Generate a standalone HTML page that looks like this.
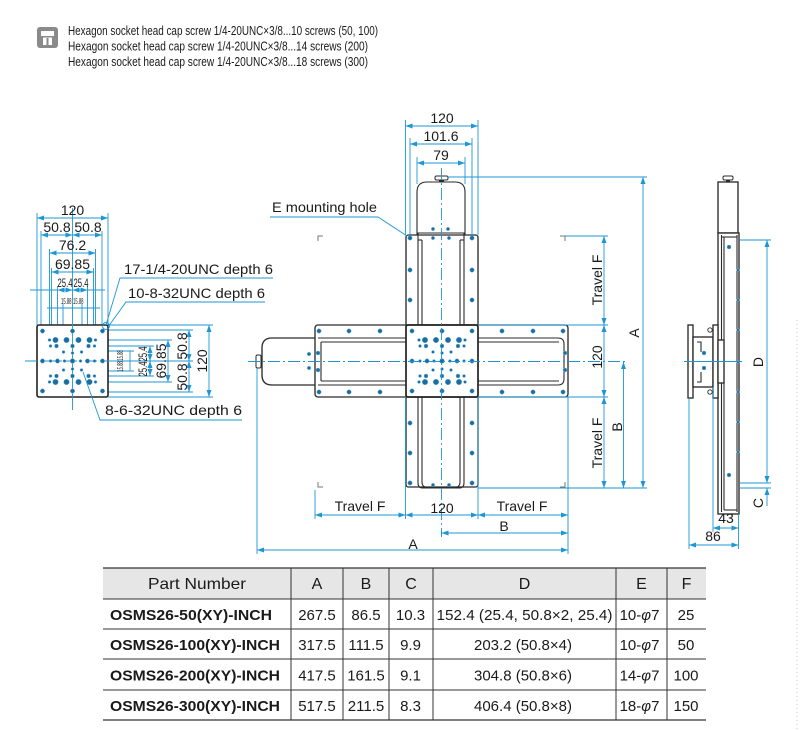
<!DOCTYPE html>
<html><head><meta charset="utf-8"><style>
html,body{margin:0;padding:0;background:#fff;}
svg{display:block}
.b{stroke:#1e96d6;stroke-width:0.9;fill:none}
.d{stroke:#1e96d6;stroke-width:0.9;fill:none;marker-start:url(#ar);marker-end:url(#ar)}
.k{stroke:#2b2b2b;stroke-width:1.35;fill:#fff}
.kl{stroke:#2b2b2b;stroke-width:1.1;fill:none}
.cl{stroke:#1e96d6;stroke-width:0.9;fill:none;stroke-dasharray:12 3 2 3}
.g{stroke:#777;stroke-width:1;fill:none}
.h{fill:#1d6c9c;stroke:#6bbbe8;stroke-width:0.5}
.t line{stroke:#333;stroke-width:1}
text{fill:#1a1a1a}
</style></head><body>
<svg width="800" height="730" viewBox="0 0 800 730" font-family="'Liberation Sans', sans-serif">
<defs>
<marker id="ar" viewBox="0 0 7 5" refX="7" refY="2.5" markerWidth="7" markerHeight="5" orient="auto-start-reverse" markerUnits="userSpaceOnUse"><path d="M0,0 L7,2.5 L0,5z" fill="#1e96d6"/></marker>
<g id="hp">
<circle class="h" cx="-30" cy="-30" r="2.2"/><circle class="h" cx="0" cy="-30" r="2.2"/><circle class="h" cx="30" cy="-30" r="2.2"/>
<circle class="h" cx="-30" cy="30" r="2.2"/><circle class="h" cx="0" cy="30" r="2.2"/><circle class="h" cx="30" cy="30" r="2.2"/>
<circle class="h" cx="-30" cy="0" r="2.2"/><circle class="h" cx="-22" cy="0" r="1.5"/><circle class="h" cx="-15" cy="0" r="2.2"/><circle class="h" cx="-8" cy="0" r="1.5"/><circle class="h" cx="0" cy="0" r="2.4"/><circle class="h" cx="8" cy="0" r="1.5"/><circle class="h" cx="15" cy="0" r="2.2"/><circle class="h" cx="22" cy="0" r="1.5"/><circle class="h" cx="30" cy="0" r="2.2"/>
<circle class="h" cx="-17" cy="-21" r="2.8"/><circle class="h" cx="-6" cy="-21" r="2.8"/><circle class="h" cx="6" cy="-21" r="2.8"/><circle class="h" cx="17" cy="-21" r="2.8"/>
<circle class="h" cx="-23" cy="-21" r="1.5"/><circle class="h" cx="23" cy="-21" r="1.5"/>
<circle class="h" cx="-16" cy="-15" r="2"/><circle class="h" cx="0" cy="-15" r="2"/><circle class="h" cx="16" cy="-15" r="2"/>
<circle class="h" cx="-22" cy="-15" r="1.5"/><circle class="h" cx="22" cy="-15" r="1.5"/>
<circle class="h" cx="-9" cy="-9" r="1.5"/><circle class="h" cx="9" cy="-9" r="1.5"/><circle class="h" cx="0" cy="-8" r="1.5"/>
<circle class="h" cx="-17" cy="21" r="2.8"/><circle class="h" cx="-6" cy="21" r="2.8"/><circle class="h" cx="6" cy="21" r="2.8"/><circle class="h" cx="17" cy="21" r="2.8"/>
<circle class="h" cx="-23" cy="21" r="1.5"/><circle class="h" cx="23" cy="21" r="1.5"/>
<circle class="h" cx="-16" cy="15" r="2"/><circle class="h" cx="0" cy="15" r="2"/><circle class="h" cx="16" cy="15" r="2"/>
<circle class="h" cx="-22" cy="15" r="1.5"/><circle class="h" cx="22" cy="15" r="1.5"/>
<circle class="h" cx="-9" cy="9" r="1.5"/><circle class="h" cx="9" cy="9" r="1.5"/><circle class="h" cx="0" cy="8" r="1.5"/>
</g>
</defs>

<!-- Header -->
<rect x="37" y="27" width="21" height="21" rx="3" fill="#8a8a8a"/>
<rect x="41" y="31" width="13" height="5" fill="#fff"/>
<rect x="43" y="37.5" width="9" height="7.5" fill="#fff"/>
<rect x="46.5" y="38" width="2" height="7" fill="#8a8a8a"/>
<text x="68" y="35" font-size="12.5" textLength="310" lengthAdjust="spacingAndGlyphs">Hexagon socket head cap screw 1/4-20UNC×3/8...10 screws (50, 100)</text>
<text x="68" y="50.5" font-size="12.5" textLength="300" lengthAdjust="spacingAndGlyphs">Hexagon socket head cap screw 1/4-20UNC×3/8...14 screws (200)</text>
<text x="68" y="66" font-size="12.5" textLength="300" lengthAdjust="spacingAndGlyphs">Hexagon socket head cap screw 1/4-20UNC×3/8...18 screws (300)</text>

<!-- ============ LEFT VIEW ============ -->
<g class="b">
<line x1="37" y1="213" x2="37" y2="325"/><line x1="108" y1="213" x2="108" y2="325"/>
<line x1="41" y1="231" x2="41" y2="330"/><line x1="102" y1="231" x2="102" y2="330"/>
<line x1="49.5" y1="249" x2="49.5" y2="339"/><line x1="95.5" y1="249" x2="95.5" y2="339"/>
<line x1="51.5" y1="268" x2="51.5" y2="340"/><line x1="93.5" y1="268" x2="93.5" y2="340"/>
<line x1="57.5" y1="286" x2="57.5" y2="346"/><line x1="87.5" y1="286" x2="87.5" y2="346"/>
<line x1="63" y1="304" x2="63" y2="350"/><line x1="82" y1="304" x2="82" y2="350"/>
<line x1="30" y1="290" x2="105" y2="290"/>
<line x1="47" y1="308" x2="100" y2="308"/>
<line x1="108" y1="325" x2="213" y2="325"/><line x1="108" y1="397" x2="213" y2="397"/>
<line x1="104" y1="330" x2="193" y2="330"/><line x1="104" y1="392" x2="193" y2="392"/>
<line x1="98" y1="340" x2="172" y2="340"/><line x1="98" y1="382" x2="172" y2="382"/>
<line x1="90" y1="346" x2="154" y2="346"/><line x1="90" y1="376" x2="154" y2="376"/>
<line x1="85" y1="351" x2="134" y2="351"/><line x1="85" y1="371" x2="134" y2="371"/>
<line x1="104" y1="361" x2="193" y2="361"/>
</g>
<rect x="37" y="325" width="71" height="72" rx="2" fill="#fff" stroke="#222" stroke-width="1.6"/>
<line class="b" x1="72.5" y1="208" x2="72.5" y2="410"/>
<line class="cl" x1="25" y1="361" x2="110" y2="361"/>
<use href="#hp" transform="translate(72.5 361)"/>
<circle cx="106" cy="326" r="3.5" fill="none" stroke="#1e96d6" stroke-width="0.9"/>
<line class="d" x1="37" y1="218" x2="108" y2="218"/>
<line class="d" x1="41" y1="235" x2="72.5" y2="235"/><line class="d" x1="72.5" y1="235" x2="102" y2="235"/>
<line class="d" x1="49.5" y1="253" x2="95.5" y2="253"/>
<line class="d" x1="51.5" y1="272" x2="93.5" y2="272"/>
<line class="d" x1="57.5" y1="290" x2="72.5" y2="290"/><line class="d" x1="72.5" y1="290" x2="87.5" y2="290"/>
<text x="72.5" y="215" font-size="14" text-anchor="middle">120</text>
<text x="57" y="232" font-size="14" text-anchor="middle">50.8</text>
<text x="88" y="232" font-size="14" text-anchor="middle">50.8</text>
<text x="72.5" y="250" font-size="14" text-anchor="middle">76.2</text>
<text x="72.5" y="269" font-size="14" text-anchor="middle">69.85</text>
<text x="57.5" y="287" font-size="12" textLength="15" lengthAdjust="spacingAndGlyphs">25.4</text>
<text x="73.5" y="287" font-size="12" textLength="15" lengthAdjust="spacingAndGlyphs">25.4</text>
<text x="61" y="304" font-size="8" textLength="10.5" lengthAdjust="spacingAndGlyphs">15.88</text>
<text x="73" y="304" font-size="8" textLength="10.5" lengthAdjust="spacingAndGlyphs">15.88</text>
<line class="d" x1="209" y1="325" x2="209" y2="397"/>
<line class="d" x1="189" y1="330" x2="189" y2="361"/><line class="d" x1="189" y1="361" x2="189" y2="392"/>
<line class="d" x1="168" y1="340" x2="168" y2="382"/>
<line class="d" x1="150" y1="346" x2="150" y2="361"/><line class="d" x1="150" y1="361" x2="150" y2="376"/>
<line class="b" x1="130" y1="351" x2="130" y2="371"/>
<text transform="translate(202 361) rotate(-90)" font-size="14" text-anchor="middle" dy="5">120</text>
<text transform="translate(182 346) rotate(-90)" font-size="14" text-anchor="middle" dy="5">50.8</text>
<text transform="translate(182 377) rotate(-90)" font-size="14" text-anchor="middle" dy="5">50.8</text>
<text transform="translate(161 361) rotate(-90)" font-size="14" text-anchor="middle" dy="5">69.85</text>
<text transform="translate(143 354) rotate(-90)" font-size="12" text-anchor="middle" dy="4" textLength="15" lengthAdjust="spacingAndGlyphs">25.4</text>
<text transform="translate(143 369) rotate(-90)" font-size="12" text-anchor="middle" dy="4" textLength="15" lengthAdjust="spacingAndGlyphs">25.4</text>
<text transform="translate(120 355.5) rotate(-90)" font-size="8" text-anchor="middle" dy="3" textLength="10.5" lengthAdjust="spacingAndGlyphs">15.88</text>
<text transform="translate(120 366.5) rotate(-90)" font-size="8" text-anchor="middle" dy="3" textLength="10.5" lengthAdjust="spacingAndGlyphs">15.88</text>
<polyline class="b" points="273,278 120,278 106,325"/>
<polyline class="b" points="265,302 126,302 108,327"/>
<polyline class="b" points="242,420 100,420 83,372"/>
<text x="124" y="274" font-size="14" textLength="149" lengthAdjust="spacingAndGlyphs">17-1/4-20UNC depth 6</text>
<text x="128" y="298" font-size="14" textLength="137" lengthAdjust="spacingAndGlyphs">10-8-32UNC depth 6</text>
<text x="105" y="415" font-size="14" textLength="137" lengthAdjust="spacingAndGlyphs">8-6-32UNC depth 6</text>

<!-- ============ CENTER VIEW ============ -->
<rect class="k" x="406" y="235" width="72" height="252" rx="2.5"/>
<path class="kl" d="M417,235 V192 Q417,182 427,182 H455 Q465,182 465,192 V235" fill="#fff"/>
<rect x="435" y="176" width="13" height="4" rx="1.5" fill="#fff" stroke="#2b2b2b" stroke-width="1"/>
<rect x="439" y="180" width="5" height="2" fill="#2b2b2b"/>
<path class="kl" d="M418,325 V233 H464 V325"/>
<line class="kl" x1="422" y1="240" x2="422" y2="325"/><line class="kl" x1="460" y1="240" x2="460" y2="325"/>
<line class="kl" x1="418" y1="240" x2="422" y2="240"/><line class="kl" x1="460" y1="240" x2="464" y2="240"/>
<path class="kl" d="M418,397 V483 Q418,488 423,488 H459 Q464,488 464,483 V397"/>
<path class="kl" d="M422,397 V482 Q422,486 425,487"/><path class="kl" d="M460,397 V482 Q460,486 457,487"/>
<path class="k" d="M315,338 H272 Q262,338 262,348 V375 Q262,385 272,385 H315"/>
<rect x="256" y="355" width="5" height="13" rx="1.5" fill="#fff" stroke="#2b2b2b" stroke-width="1"/>
<rect class="k" x="315" y="325" width="253" height="72" rx="3"/>
<line class="kl" x1="318" y1="338" x2="406" y2="338"/><line class="kl" x1="321" y1="342" x2="406" y2="342"/>
<line class="kl" x1="321" y1="381" x2="406" y2="381"/><line class="kl" x1="318" y1="385" x2="406" y2="385"/>
<line class="kl" x1="321" y1="342" x2="321" y2="381"/>
<path class="kl" d="M478,338 H558 Q564,338 564,344 V379 Q564,385 558,385 H478"/>
<line class="kl" x1="478" y1="342" x2="559" y2="342"/><line class="kl" x1="478" y1="381" x2="559" y2="381"/>
<rect x="406" y="325" width="72" height="72" rx="2" fill="#fff" stroke="#222" stroke-width="1.7"/>
<use href="#hp" transform="translate(442 361)"/>
<g>
<circle class="h" cx="319" cy="331" r="2.2"/><circle class="h" cx="349" cy="331" r="2.2"/><circle class="h" cx="380" cy="331" r="2.2"/>
<circle class="h" cx="502" cy="331" r="2.2"/><circle class="h" cx="533" cy="331" r="2.2"/><circle class="h" cx="563" cy="331" r="2.2"/>
<circle class="h" cx="319" cy="392" r="2.2"/><circle class="h" cx="349" cy="392" r="2.2"/><circle class="h" cx="380" cy="392" r="2.2"/>
<circle class="h" cx="502" cy="392" r="2.2"/><circle class="h" cx="533" cy="392" r="2.2"/><circle class="h" cx="563" cy="392" r="2.2"/>
<circle class="h" cx="309" cy="354" r="1.8"/><circle class="h" cx="318" cy="353" r="2"/><circle class="h" cx="309" cy="368" r="1.8"/><circle class="h" cx="318" cy="370" r="2"/>
<circle class="h" cx="565" cy="353" r="2"/><circle class="h" cx="565" cy="370" r="2"/>
<circle class="h" cx="410" cy="238" r="2.2"/><circle class="h" cx="472" cy="238" r="2.2"/>
<circle class="h" cx="410" cy="270" r="2.2"/><circle class="h" cx="472" cy="270" r="2.2"/>
<circle class="h" cx="410" cy="300" r="2.2"/><circle class="h" cx="472" cy="300" r="2.2"/>
<circle class="h" cx="433" cy="229" r="1.7"/><circle class="h" cx="448" cy="229" r="1.7"/><circle class="h" cx="433" cy="238" r="1.7"/><circle class="h" cx="449" cy="238" r="1.7"/>
<circle class="h" cx="410" cy="423" r="2.2"/><circle class="h" cx="472" cy="423" r="2.2"/>
<circle class="h" cx="410" cy="453" r="2.2"/><circle class="h" cx="472" cy="453" r="2.2"/>
<circle class="h" cx="410" cy="483" r="2.2"/><circle class="h" cx="472" cy="483" r="2.2"/>
<circle class="h" cx="433" cy="485" r="1.7"/><circle class="h" cx="449" cy="485" r="1.7"/>
</g>
<path class="g" d="M318,241 V236 H323"/><path class="g" d="M560,236 H565 V241"/>
<path class="g" d="M318,482 V487 H323"/><path class="g" d="M560,487 H565 V482"/>
<line class="cl" x1="441.5" y1="168" x2="441.5" y2="537"/>
<line class="cl" x1="248" y1="361.5" x2="628" y2="361.5"/>
<g class="b">
<line x1="405.5" y1="120" x2="405.5" y2="235"/><line x1="478" y1="120" x2="478" y2="235"/>
<line x1="410" y1="138" x2="410" y2="236"/><line x1="472" y1="138" x2="472" y2="236"/>
<line x1="417" y1="157" x2="417" y2="184"/><line x1="465" y1="157" x2="465" y2="184"/>
<line x1="447" y1="177" x2="647" y2="177"/>
<line x1="565" y1="236" x2="608" y2="236"/>
<line x1="478" y1="325" x2="608" y2="325"/>
<line x1="478" y1="397" x2="608" y2="397"/>
<line x1="478" y1="488" x2="647" y2="488"/>
<line x1="405.5" y1="397" x2="405.5" y2="519"/>
<line x1="478" y1="397" x2="478" y2="519"/>
<line x1="315" y1="490" x2="315" y2="519"/>
<line x1="568" y1="397" x2="568" y2="554"/>
<line x1="257" y1="368" x2="257" y2="554"/>
<line x1="441.5" y1="530" x2="441.5" y2="537"/>
</g>
<line class="d" x1="405.5" y1="126" x2="478" y2="126"/>
<line class="d" x1="410" y1="144" x2="472" y2="144"/>
<line class="d" x1="417" y1="163" x2="465" y2="163"/>
<text x="442" y="123" font-size="14" text-anchor="middle">120</text>
<text x="441" y="141" font-size="14" text-anchor="middle">101.6</text>
<text x="441" y="160" font-size="14" text-anchor="middle">79</text>
<polyline class="b" points="270,217 378,217 407,236"/>
<text x="272" y="212" font-size="14" textLength="105" lengthAdjust="spacingAndGlyphs">E mounting hole</text>
<line class="d" x1="604" y1="236" x2="604" y2="325"/>
<line class="d" x1="604" y1="325" x2="604" y2="397"/>
<line class="d" x1="604" y1="397" x2="604" y2="488"/>
<line class="d" x1="623.5" y1="362" x2="623.5" y2="488"/>
<line class="d" x1="643" y1="177" x2="643" y2="488"/>
<text transform="translate(597 280) rotate(-90)" font-size="14" text-anchor="middle" dy="5">Travel F</text>
<text transform="translate(597 357) rotate(-90)" font-size="14" text-anchor="middle" dy="5">120</text>
<text transform="translate(597 443) rotate(-90)" font-size="14" text-anchor="middle" dy="5">Travel F</text>
<text transform="translate(617 427) rotate(-90)" font-size="14" text-anchor="middle" dy="5">B</text>
<text transform="translate(634 333) rotate(-90)" font-size="14" text-anchor="middle" dy="5">A</text>
<line class="d" x1="315" y1="515" x2="405.5" y2="515"/>
<line class="d" x1="405.5" y1="515" x2="478" y2="515"/>
<line class="d" x1="478" y1="515" x2="568" y2="515"/>
<line class="d" x1="441.5" y1="533" x2="568" y2="533"/>
<line class="d" x1="257" y1="550" x2="568" y2="550"/>
<text x="360" y="511" font-size="14" text-anchor="middle">Travel F</text>
<text x="442" y="513" font-size="14" text-anchor="middle">120</text>
<text x="522" y="511" font-size="14" text-anchor="middle">Travel F</text>
<text x="504" y="531" font-size="14" text-anchor="middle">B</text>
<text x="413" y="549" font-size="14" text-anchor="middle">A</text>

<!-- ============ SIDE VIEW ============ -->
<rect class="k" x="718" y="182" width="20" height="51"/>
<rect x="723" y="176" width="10" height="4" rx="1.5" fill="#fff" stroke="#2b2b2b" stroke-width="1"/>
<rect x="726" y="180" width="4" height="2" fill="#2b2b2b"/>
<rect class="k" x="718" y="233" width="21" height="281"/>
<line class="kl" x1="721.5" y1="235" x2="721.5" y2="512"/>
<line class="kl" x1="724" y1="237" x2="724" y2="510"/>
<line class="kl" x1="737" y1="235" x2="737" y2="512"/>
<line class="kl" x1="721.5" y1="237" x2="737" y2="237"/>
<line class="kl" x1="724" y1="510" x2="737" y2="510"/>
<rect class="k" x="688" y="325" width="5" height="73"/>
<rect class="k" x="693" y="337" width="20" height="50"/>
<rect class="k" x="713" y="325" width="5" height="73"/>
<rect class="k" x="718" y="340" width="6" height="43"/>
<path class="kl" d="M697,342 H701 V352 M697,382 H701 V372"/>
<circle class="h" cx="704" cy="353" r="2"/><circle class="h" cx="704" cy="368" r="2"/>
<circle cx="710" cy="330" r="2.2" fill="#fff" stroke="#2b2b2b" stroke-width="0.9"/><circle cx="710" cy="392" r="2.2" fill="#fff" stroke="#2b2b2b" stroke-width="0.9"/>
<circle class="h" cx="729" cy="247" r="2"/><circle class="h" cx="729" cy="475" r="2"/>
<g>
<circle class="h" cx="738" cy="270" r="1.4"/><circle class="h" cx="738" cy="300" r="1.4"/><circle class="h" cx="738" cy="330" r="1.4"/><circle class="h" cx="738" cy="362" r="1.4"/><circle class="h" cx="738" cy="392" r="1.4"/><circle class="h" cx="738" cy="422" r="1.4"/><circle class="h" cx="738" cy="452" r="1.4"/>
</g>
<line class="b" x1="684" y1="361.5" x2="742" y2="361.5"/>
<g class="b">
<line x1="740" y1="240" x2="771" y2="240"/>
<line x1="740" y1="483" x2="771" y2="483"/>
<line x1="740" y1="488" x2="771" y2="488"/>
<line x1="689" y1="398" x2="689" y2="549"/>
<line x1="713" y1="387" x2="713" y2="532"/>
<line x1="738.5" y1="514" x2="738.5" y2="549"/>
<line x1="767" y1="488" x2="767" y2="506" marker-start="url(#ar)"/>
</g>
<line class="d" x1="767" y1="240" x2="767" y2="483"/>
<line class="d" x1="713" y1="528" x2="738.5" y2="528"/>
<line class="d" x1="689" y1="545" x2="738.5" y2="545"/>
<text transform="translate(758 362) rotate(-90)" font-size="14" text-anchor="middle" dy="5">D</text>
<text transform="translate(758 503) rotate(-90)" font-size="14" text-anchor="middle" dy="5">C</text>
<text x="726" y="523" font-size="14" text-anchor="middle">43</text>
<text x="713" y="541" font-size="14" text-anchor="middle">86</text>
<line x1="797" y1="320" x2="797" y2="730" stroke="#c8c8c8" stroke-width="1" stroke-dasharray="1 3"/>

<!-- ============ TABLE ============ -->
<rect x="103" y="568" width="603" height="31" fill="#e6e6e6"/>
<g class="t">
<line x1="103" y1="568" x2="706" y2="568" style="stroke-width:1.3"/>
<line x1="103" y1="599" x2="706" y2="599"/>
<line x1="103" y1="629" x2="706" y2="629"/>
<line x1="103" y1="659" x2="706" y2="659"/>
<line x1="103" y1="690" x2="706" y2="690"/>
<line x1="103" y1="720" x2="706" y2="720" style="stroke-width:1.3"/>
<line x1="291" y1="568" x2="291" y2="720"/>
<line x1="343" y1="568" x2="343" y2="720"/>
<line x1="389" y1="568" x2="389" y2="720"/>
<line x1="433" y1="568" x2="433" y2="720"/>
<line x1="616" y1="568" x2="616" y2="720"/>
<line x1="667" y1="568" x2="667" y2="720"/>
</g>
<g font-size="16" fill="#333" text-anchor="middle">
<text x="197" y="589" textLength="98" lengthAdjust="spacingAndGlyphs" fill="#333">Part Number</text>
<text x="317" y="589" fill="#333">A</text>
<text x="366" y="589" fill="#333">B</text>
<text x="411" y="589" fill="#333">C</text>
<text x="524.5" y="589" fill="#333">D</text>
<text x="641.5" y="589" fill="#333">E</text>
<text x="686.5" y="589" fill="#333">F</text>
</g>
<g font-size="15" font-weight="bold">
<text x="110" y="620" textLength="162" lengthAdjust="spacingAndGlyphs">OSMS26-50(XY)-INCH</text>
<text x="110" y="650" textLength="170" lengthAdjust="spacingAndGlyphs">OSMS26-100(XY)-INCH</text>
<text x="110" y="680.5" textLength="170" lengthAdjust="spacingAndGlyphs">OSMS26-200(XY)-INCH</text>
<text x="110" y="711" textLength="170" lengthAdjust="spacingAndGlyphs">OSMS26-300(XY)-INCH</text>
</g>
<g font-size="15" text-anchor="middle">
<text x="317" y="620" fill="#333">267.5</text><text x="366" y="620" fill="#333">86.5</text><text x="410.5" y="620" fill="#333">10.3</text>
<text x="524.5" y="620" fill="#333" textLength="176" lengthAdjust="spacingAndGlyphs">152.4 (25.4, 50.8×2, 25.4)</text>
<text x="639.5" y="620" fill="#333">10-<tspan font-style="italic">φ</tspan>7</text><text x="686" y="620" fill="#333">25</text>
<text x="317" y="650" fill="#333">317.5</text><text x="366" y="650" fill="#333">111.5</text><text x="410.5" y="650" fill="#333">9.9</text>
<text x="523" y="650" fill="#333">203.2 (50.8×4)</text>
<text x="639.5" y="650" fill="#333">10-<tspan font-style="italic">φ</tspan>7</text><text x="686" y="650" fill="#333">50</text>
<text x="317" y="680.5" fill="#333">417.5</text><text x="366" y="680.5" fill="#333">161.5</text><text x="410.5" y="680.5" fill="#333">9.1</text>
<text x="523" y="680.5" fill="#333">304.8 (50.8×6)</text>
<text x="639.5" y="680.5" fill="#333">14-<tspan font-style="italic">φ</tspan>7</text><text x="686" y="680.5" fill="#333">100</text>
<text x="317" y="711" fill="#333">517.5</text><text x="366" y="711" fill="#333">211.5</text><text x="410.5" y="711" fill="#333">8.3</text>
<text x="523" y="711" fill="#333">406.4 (50.8×8)</text>
<text x="639.5" y="711" fill="#333">18-<tspan font-style="italic">φ</tspan>7</text><text x="686" y="711" fill="#333">150</text>
</g>
</svg>
</body></html>
